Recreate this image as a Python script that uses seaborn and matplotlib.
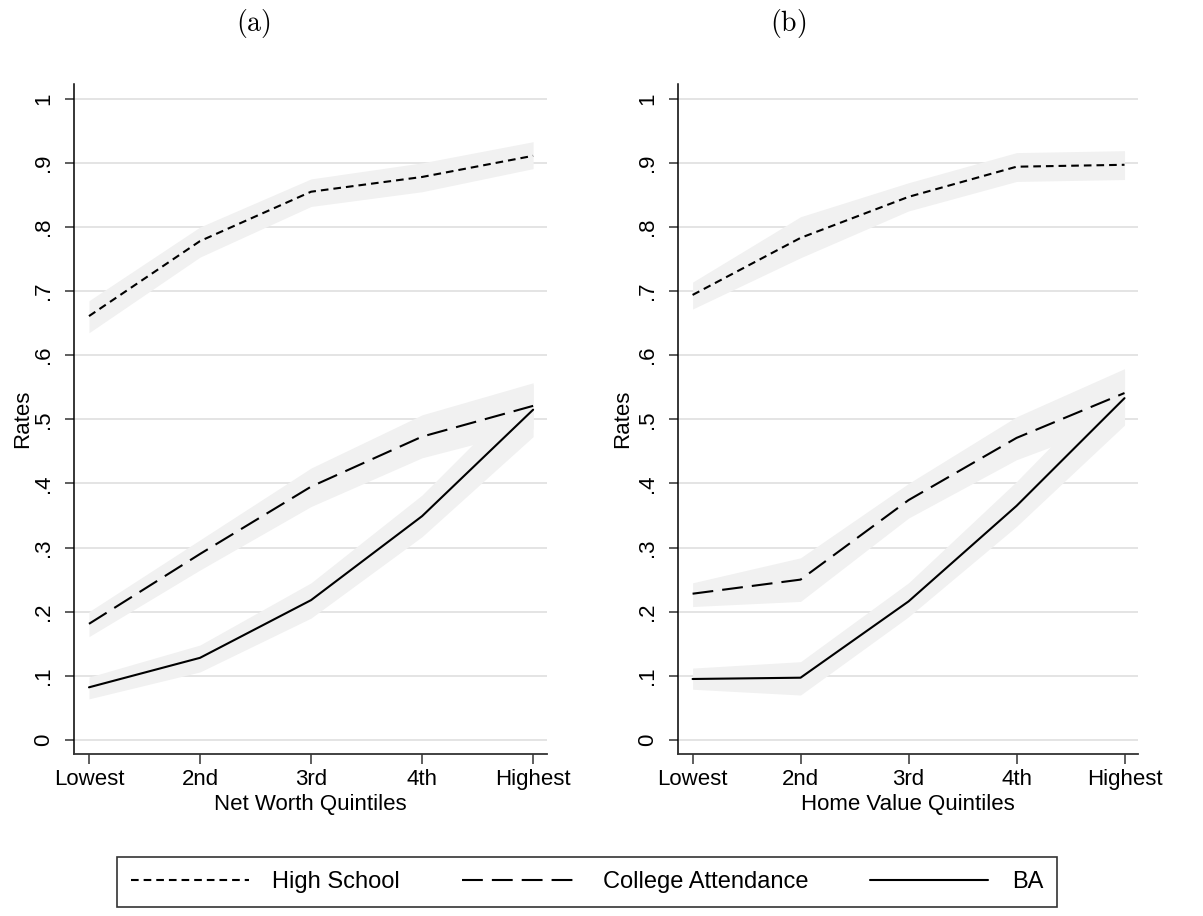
import numpy as np
import pandas as pd
import matplotlib
matplotlib.use("Agg")
import matplotlib.pyplot as plt
import seaborn as sns

# quintile categories
quintiles = ["Lowest", "2nd", "3rd", "4th", "Highest"]
series = ["High School", "College Attendance", "BA"]

# panel (a): net worth quintiles
nw_hs = [0.661, 0.778, 0.855, 0.878, 0.911]
nw_hs_lo = [0.635, 0.753, 0.832, 0.855, 0.891]
nw_hs_hi = [0.685, 0.800, 0.875, 0.900, 0.933]
nw_col = [0.181, 0.290, 0.395, 0.473, 0.521]
nw_col_lo = [0.161, 0.265, 0.364, 0.440, 0.485]
nw_col_hi = [0.200, 0.312, 0.424, 0.507, 0.557]
nw_ba = [0.082, 0.128, 0.218, 0.349, 0.515]
nw_ba_lo = [0.064, 0.106, 0.190, 0.317, 0.473]
nw_ba_hi = [0.098, 0.148, 0.245, 0.382, 0.555]

# panel (b): home value quintiles
hv_hs = [0.694, 0.783, 0.847, 0.894, 0.897]
hv_hs_lo = [0.672, 0.752, 0.825, 0.871, 0.874]
hv_hs_hi = [0.714, 0.816, 0.869, 0.916, 0.919]
hv_col = [0.228, 0.250, 0.374, 0.471, 0.541]
hv_col_lo = [0.208, 0.216, 0.346, 0.437, 0.500]
hv_col_hi = [0.245, 0.284, 0.400, 0.504, 0.579]
hv_ba = [0.095, 0.097, 0.216, 0.365, 0.533]
hv_ba_lo = [0.079, 0.070, 0.192, 0.333, 0.491]
hv_ba_hi = [0.112, 0.122, 0.245, 0.403, 0.575]

ytick_vals = [0, 0.1, 0.2, 0.3, 0.4, 0.5, 0.6, 0.7, 0.8, 0.9, 1.0]
ytick_labels = ["0", ".1", ".2", ".3", ".4", ".5", ".6", ".7", ".8", ".9", "1"]

sns.set_style("white")
plt.rcParams["font.family"] = ["Liberation Sans", "DejaVu Sans"]
plt.rcParams["mathtext.fontset"] = "cm"
plt.rcParams["lines.scale_dashes"] = False
plt.rcParams["text.color"] = "black"
plt.rcParams["axes.labelcolor"] = "black"
plt.rcParams["xtick.color"] = "black"
plt.rcParams["ytick.color"] = "black"

styles = {
    "High School": (0, (5.5, 3.6)),
    "College Attendance": (0, (15, 6.5)),
    "BA": "-",
}


def long_frame(hs, col, ba, lo, hi):
    rows = []
    for name, vals, l, h in zip(series, [hs, col, ba], lo, hi):
        for i, q in enumerate(quintiles):
            rows.append({"pos": i, "quintile": q, "series": name,
                         "rate": vals[i], "lo": l[i], "hi": h[i]})
    return pd.DataFrame(rows)


df_a = long_frame(nw_hs, nw_col, nw_ba,
                  [nw_hs_lo, nw_col_lo, nw_ba_lo], [nw_hs_hi, nw_col_hi, nw_ba_hi])
df_b = long_frame(hv_hs, hv_col, hv_ba,
                  [hv_hs_lo, hv_col_lo, hv_ba_lo], [hv_hs_hi, hv_col_hi, hv_ba_hi])

fig = plt.figure(figsize=(12.03, 9.16), dpi=100)
ax_a = fig.add_axes([74 / 1203, 1 - 754 / 916, 473 / 1203, 670 / 916])
ax_b = fig.add_axes([678 / 1203, 1 - 754 / 916, 460 / 1203, 670 / 916])


def draw_panel(ax, df, xlabel, ylab_x):
    # confidence bands first
    for name in series:
        d = df[df["series"] == name]
        ax.fill_between(d["pos"], d["lo"], d["hi"], color="#f1f1f1", lw=0, zorder=1)
    for name in series:
        d = df[df["series"] == name]
        sns.lineplot(data=d, x="pos", y="rate", ax=ax, color="black", lw=1.5,
                     linestyle=styles[name], label=name, legend=False, zorder=3)
    ax.set_xlim(-0.135, 4.125)
    ax.set_ylim(-0.022, 1.023)
    ax.set_yticks(ytick_vals)
    ax.set_yticklabels(ytick_labels, rotation=90, va="center", fontsize=16)
    ax.set_xticks(range(len(quintiles)))
    ax.set_xticklabels(quintiles, fontsize=16)
    for y in ytick_vals:
        ax.axhline(y, color="#e2e2e2", lw=1.3, zorder=0)
    ax.set_xlabel(xlabel, fontsize=16, labelpad=3)
    ax.set_ylabel("Rates", fontsize=16)
    ax.yaxis.set_label_coords(ylab_x, 0.5)
    for s in ["top", "right"]:
        ax.spines[s].set_visible(False)
    ax.spines["left"].set_color("black")
    ax.spines["left"].set_linewidth(1.1)
    ax.spines["bottom"].set_color("#333333")
    ax.spines["bottom"].set_linewidth(1.3)
    ax.tick_params(axis="y", direction="out", length=6.5, width=1.1, pad=8, left=True, color="#333333")
    ax.tick_params(axis="x", direction="out", length=7, width=1.1, pad=4, bottom=True, color="#333333")


draw_panel(ax_a, df_a, "Net Worth Quintiles", -0.087)
draw_panel(ax_b, df_b, "Home Value Quintiles", -0.098)

fig.text(253 / 1203, 1 - 23 / 916, r"$\mathrm{(a)}$", ha="center", va="center", fontsize=20)
fig.text(788 / 1203, 1 - 23 / 916, r"$\mathrm{(b)}$", ha="center", va="center", fontsize=20)

handles, labels = ax_a.get_legend_handles_labels()
leg = fig.legend(handles, labels, loc="center", bbox_to_anchor=(587 / 1203, 1 - 882 / 916),
                 ncol=3, fontsize=17, frameon=True, fancybox=False, handlelength=5.0,
                 handletextpad=1.0, columnspacing=2.6, borderpad=0.6)
leg.get_frame().set_edgecolor("black")
leg.get_frame().set_linewidth(1.2)

fig.savefig("out.png", dpi=100)
